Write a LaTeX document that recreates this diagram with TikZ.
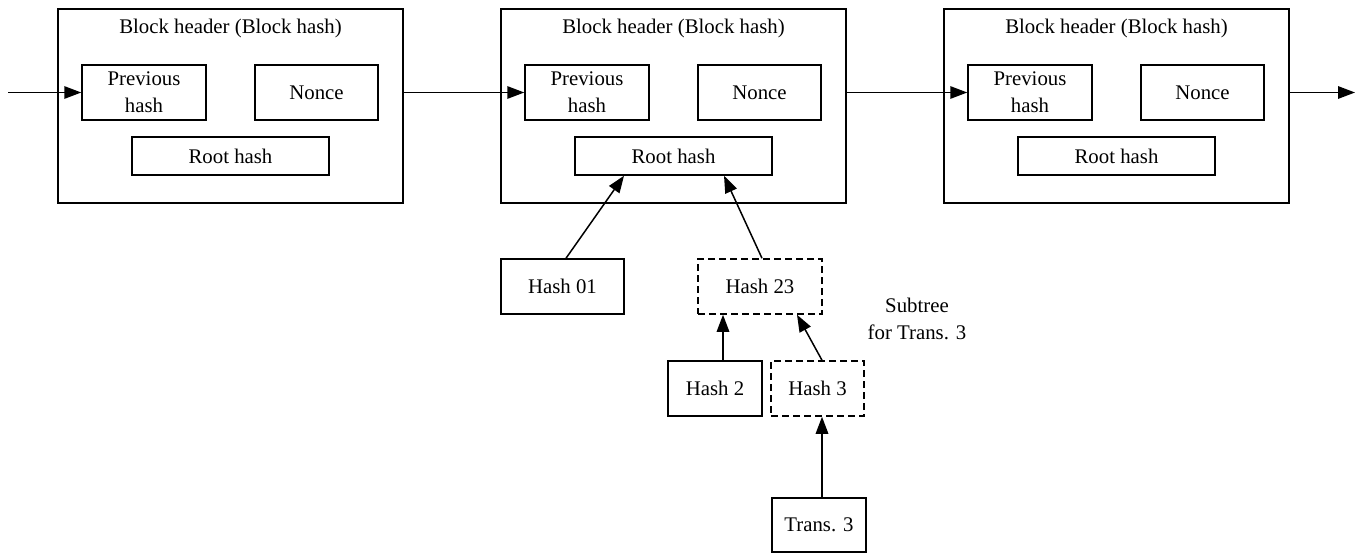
\documentclass[tikz,border=0pt]{standalone}
\usepackage{fontspec}
\setmainfont{Liberation Serif}
\usetikzlibrary{arrows.meta}
\tikzset{
  box/.style={draw, line width=1.5pt, rectangle, inner sep=0pt, align=center,
    font=\fontsize{20.8pt}{27pt}\selectfont},
  dbox/.style={box, dash pattern=on 7pt off 4pt},
  txt/.style={inner sep=0pt, align=center, font=\fontsize{20.8pt}{27pt}\selectfont},
  arr/.style={line width=1.5pt, -{Triangle[length=17pt,width=12.5pt]}},
}
\begin{document}
\begin{tikzpicture}[x=1pt,y=-1pt]
\useasboundingbox (0,0) rectangle (1362,554);
% blocks
\foreach \i/\L in {1/58,2/501,3/944}{
  \node[box, minimum width=345pt, minimum height=194pt] (b\i) at (\L+172.5,106) {};
  \node[txt] (t\i) at (\L+172.5,28) {Block header (Block hash)};
  \node[box, minimum width=124pt, minimum height=55pt] (p\i) at (\L+86,92.5) {Previous\\hash};
  \node[box, minimum width=123pt, minimum height=55pt] (n\i) at (\L+258.5,92.5) {Nonce};
  \node[box, minimum width=197pt, minimum height=38pt] (r\i) at (\L+172.5,156) {Root hash};
}
\coordinate (in) at (8,92.5);
\coordinate (out) at (1355,92.5);
\draw[arr] (in) -- (p1.west);
\draw[arr] (b1.east |- p2.west) -- (p2.west);
\draw[arr] (b2.east |- p3.west) -- (p3.west);
\draw[arr] (b3.east |- p3.west) -- (out);
% merkle tree
\node[box, minimum width=123pt, minimum height=55pt] (h01) at (562.5,286.5) {Hash 01};
\node[dbox, minimum width=124pt, minimum height=55pt] (h23) at (760,286.5) {Hash 23};
\node[box, minimum width=94pt, minimum height=55pt] (h2) at (715,388.5) {Hash 2};
\node[dbox, minimum width=93pt, minimum height=55pt] (h3) at (817.5,388.5) {Hash 3};
\node[box, minimum width=94pt, minimum height=54pt] (t3) at (819,525) {Trans. 3};
\node[txt] (sub) at (917,319) {Subtree\\for Trans. 3};
\draw[arr] ([xshift=3.5pt]h01.north) -- ([xshift=-49.5pt]r2.south);
\draw[arr] ([xshift=2pt]h23.north) -- ([xshift=50.5pt]r2.south);
\draw[arr] ([xshift=8pt]h2.north) -- ([xshift=8pt]h2.north |- h23.south);
\draw[arr] ([xshift=4.5pt]h3.north) -- ([xshift=37pt]h23.south);
\draw[arr] ([xshift=3pt]t3.north) -- ([xshift=3pt]t3.north |- h3.south);
\end{tikzpicture}
\end{document}
